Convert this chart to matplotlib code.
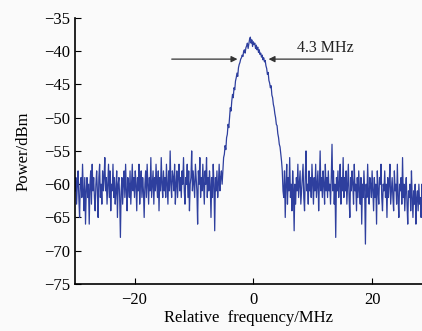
import numpy as np
import matplotlib
import matplotlib.pyplot as plt
matplotlib.use('Agg')

plt.rcParams['font.family'] = ['Liberation Serif', 'DejaVu Serif']

step = 0.125  # MHz between samples

# noise floor left of the carrier, starting at -30 MHz
left_start = -30.0
left_noise = [
    -61, -59, -63, -60, -58, -62, -65, -60, -59, -62, -57, -61, -64, -59, -66, -61, -59, -62, -60, -66,
    -60, -58, -63, -57, -61, -59, -62, -64, -60, -58, -61, -65, -59, -57, -62, -60, -63, -58, -61, -59,
    -56, -61, -59, -63, -60, -57, -62, -58, -64, -60, -61, -57, -62, -59, -63, -61, -58, -65, -60, -59,
    -62, -68, -61, -59, -63, -60, -58, -62, -57, -61, -64, -59, -60, -62, -58, -63, -60, -57, -61, -59,
    -62, -58, -60, -64, -59, -61, -57, -63, -60, -58, -62, -59, -61, -65, -60, -58, -62, -57, -60, -63,
    -59, -61, -56, -62, -60, -58, -63, -59, -61, -57, -60, -62, -58, -64, -59, -61, -56, -60, -62, -58,
    -61, -59, -62, -57, -60, -63, -58, -61, -55, -60, -62, -58, -59, -61, -57, -63, -60, -58, -62, -59,
    -57, -61, -59, -62, -58, -60, -56, -61, -63, -59, -60, -57, -62, -58, -64, -60, -59, -55, -61, -58,
    -60, -62, -57, -59, -61, -66, -58, -60, -56, -62, -59, -61, -57, -60, -63, -58, -60, -56, -62, -59,
    -61, -58, -60, -65, -59, -62, -57, -60, -67, -59, -61, -58, -62, -60, -57, -61, -59, -58, -60, -58,
]

# main lobe, starting at -5 MHz
lobe_start = -5.0
main_lobe = [
    -56, -55.5, -54.2, -54.8, -53, -52.5, -51, -51.5, -50, -48.5,
    -49, -47.5, -46.5, -47, -45.5, -45.8, -44.5, -44, -43.3, -43.8,
    -42.5, -42, -41.7, -41.2, -41, -40.6, -40.8, -40, -39.8, -40.3,
    -39.5, -39.2, -38.8, -39.6, -38.9, -38.2, -37.9, -38.8, -38.3, -39.3,
    -38.6, -39, -38.8, -39.6, -39.1, -39.8, -39.4, -40.2, -39.8, -40.5,
    -40.3, -40.9, -40.6, -41.3, -41, -41.6, -41.4, -42.2, -42.6, -43.5,
    -43.2, -44.4, -44.8, -45.5, -45.2, -46.6, -47, -48, -48.5, -49.4,
    -50, -51, -51.2, -52.4, -53, -54, -54.4, -55.5, -56.5, -58, -61,
]

# noise floor right of the carrier, starting at 5.125 MHz
right_start = 5.125
right_noise = [
    -62, -58, -65, -60, -57, -63, -59, -61, -56, -62, -60, -64, -58, -61, -67, -60, -63, -59, -61, -57,
    -62, -60, -58, -63, -61, -59, -57, -62, -64, -59, -55, -61, -60, -63, -58, -61, -59, -62, -57, -60,
    -63, -59, -61, -57, -62, -60, -58, -64, -60, -55, -61, -59, -62, -58, -60, -63, -57, -61, -59, -62,
    -58, -61, -60, -63, -59, -54, -61, -58, -63, -60, -68, -59, -61, -58, -62, -60, -57, -63, -59, -61,
    -56, -62, -59, -61, -58, -63, -60, -57, -62, -65, -59, -61, -58, -60, -63, -57, -61, -60, -64, -59,
    -62, -58, -61, -63, -59, -66, -60, -62, -58, -61, -69, -60, -62, -57, -61, -63, -59, -60, -62, -58,
    -61, -64, -59, -62, -60, -66, -58, -61, -63, -59, -60, -57, -62, -64, -60, -61, -58, -62, -60, -65,
    -59, -62, -60, -57, -63, -61, -59, -62, -64, -58, -61, -60, -63, -57, -62, -65, -60, -61, -59, -63,
    -56, -62, -60, -64, -61, -59, -63, -66, -61, -62, -60, -64, -58, -62, -65, -61, -63, -60, -66, -62,
    -61, -64, -60, -63, -62, -65, -60, -63, -61, -64, -62, -60, -63, -61, -64, -62, -60, -63, -61, -62,
]

freq = np.concatenate([
    left_start + step * np.arange(len(left_noise)),
    lobe_start + step * np.arange(len(main_lobe)),
    right_start + step * np.arange(len(right_noise)),
])
power = np.concatenate([left_noise, main_lobe, right_noise])

fig = plt.figure(figsize=(4.22, 3.31), dpi=100, facecolor='#fafafa')
ax = fig.add_axes([0.178, 0.142, 0.822, 0.804])
ax.set_facecolor('#fafafa')

ax.plot(freq, power, color='#2e3f9e', lw=0.9)

ax.set_xlim(-30, 28.4)
ax.set_ylim(-75, -35)
ax.set_xticks([-20, 0, 20])
ax.set_yticks(np.arange(-75, -34, 5))
ax.tick_params(direction='in', length=4, width=0.8, labelsize=12)
ax.tick_params(axis='x', pad=6)
ax.spines['top'].set_visible(False)
ax.spines['right'].set_visible(False)
ax.spines['left'].set_linewidth(1.2)
ax.spines['bottom'].set_linewidth(1.2)

ax.set_xlabel('Relative  frequency/MHz', fontsize=12, labelpad=1)
ax.set_ylabel('Power/dBm', fontsize=12, labelpad=9)

arrow = dict(arrowstyle='-|>', color='#333333', lw=0.9, mutation_scale=9)
ax.annotate('', xy=(-2.2, -41.2), xytext=(-14.2, -41.2), arrowprops=arrow)
ax.annotate('', xy=(2.1, -41.2), xytext=(13.8, -41.2), arrowprops=arrow)
ax.text(12.2, -39.5, '4.3 MHz', fontsize=11.5, ha='center', va='center', color='#222222')

fig.savefig('out.png', dpi=100, facecolor=fig.get_facecolor())
